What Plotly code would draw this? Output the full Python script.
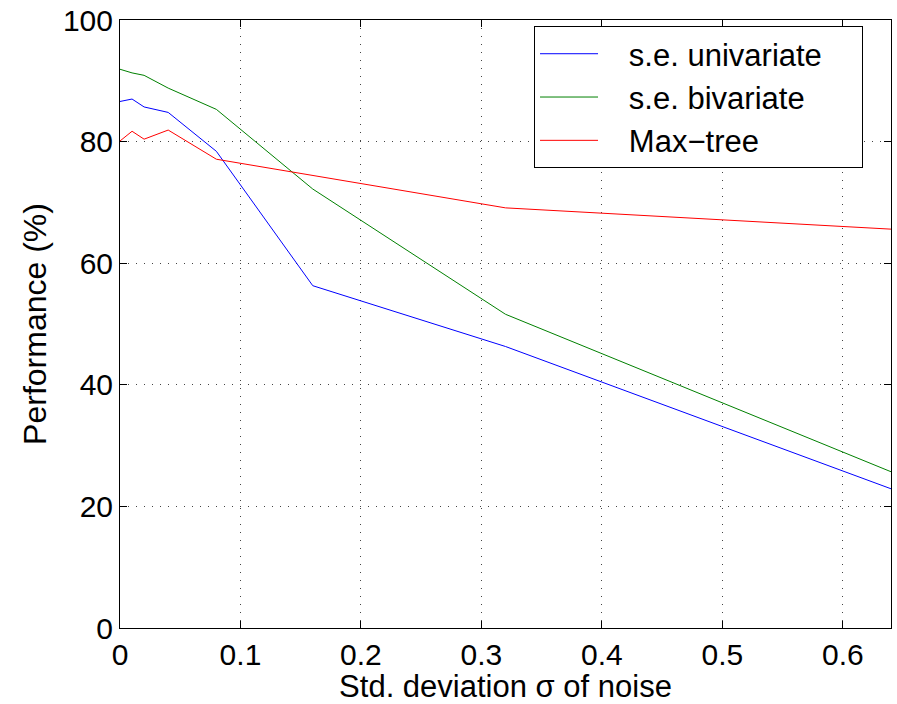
import plotly.graph_objects as go

sigma = [0, 0.01, 0.02, 0.04, 0.08, 0.16, 0.32, 0.64]
se_univariate = [86.6, 87.0, 85.7, 84.8, 78.4, 56.3, 46.3, 22.9]
se_bivariate = [91.9, 91.3, 90.9, 88.8, 85.3, 72.2, 51.6, 25.7]
max_tree = [80.1, 81.7, 80.4, 81.9, 77.1, 74.4, 69.1, 65.6]
series_names = ["s.e. univariate", "s.e. bivariate", "Max\u2212tree"]

x_ticks = [0, 0.1, 0.2, 0.3, 0.4, 0.5, 0.6]
y_ticks = [0, 20, 40, 60, 80, 100]

FONT = "Liberation Sans, Arial, Helvetica, sans-serif"
NB = "\u00a0"

fig = go.Figure()
for ys, name, col in zip([se_univariate, se_bivariate, max_tree], series_names,
                         ["#0000ff", "#008000", "#ff0000"]):
    fig.add_trace(go.Scatter(x=sigma, y=ys, mode="lines", name=NB * 3 + name + NB * 4,
                             line=dict(color=col, width=1)))

axis_common = dict(
    showline=True, linecolor="black", linewidth=1, mirror="ticks",
    ticks="inside", ticklen=7, tickcolor="black", tickwidth=1,
    showgrid=True, gridcolor="#444444", gridwidth=1, griddash="1px,7px",
    zeroline=False, tickfont=dict(family=FONT, size=30, color="black"),
    automargin=False,
)

fig.update_layout(
    width=897, height=704,
    margin=dict(l=120, r=6, t=20, b=76),
    paper_bgcolor="white", plot_bgcolor="white",
    font=dict(family=FONT, color="black"),
    xaxis=dict(range=[0, 0.64], tickvals=x_ticks, ticktext=[("0" if v == 0 else f"{v:g}") for v in x_ticks],
               title=dict(text="Std. deviation \u03c3 of noise", font=dict(family=FONT, size=31), standoff=8),
               **axis_common),
    yaxis=dict(range=[0, 100], tickvals=y_ticks,
               title=dict(text="Performance (%)", font=dict(family=FONT, size=32), standoff=6),
               **axis_common),
    legend=dict(x=0.537, xanchor="left", y=0.99, yanchor="top",
                bgcolor="white", bordercolor="black", borderwidth=1,
                font=dict(family=FONT, size=31), tracegroupgap=0, itemwidth=58),
    showlegend=True,
)

fig.write_html("out.html")
